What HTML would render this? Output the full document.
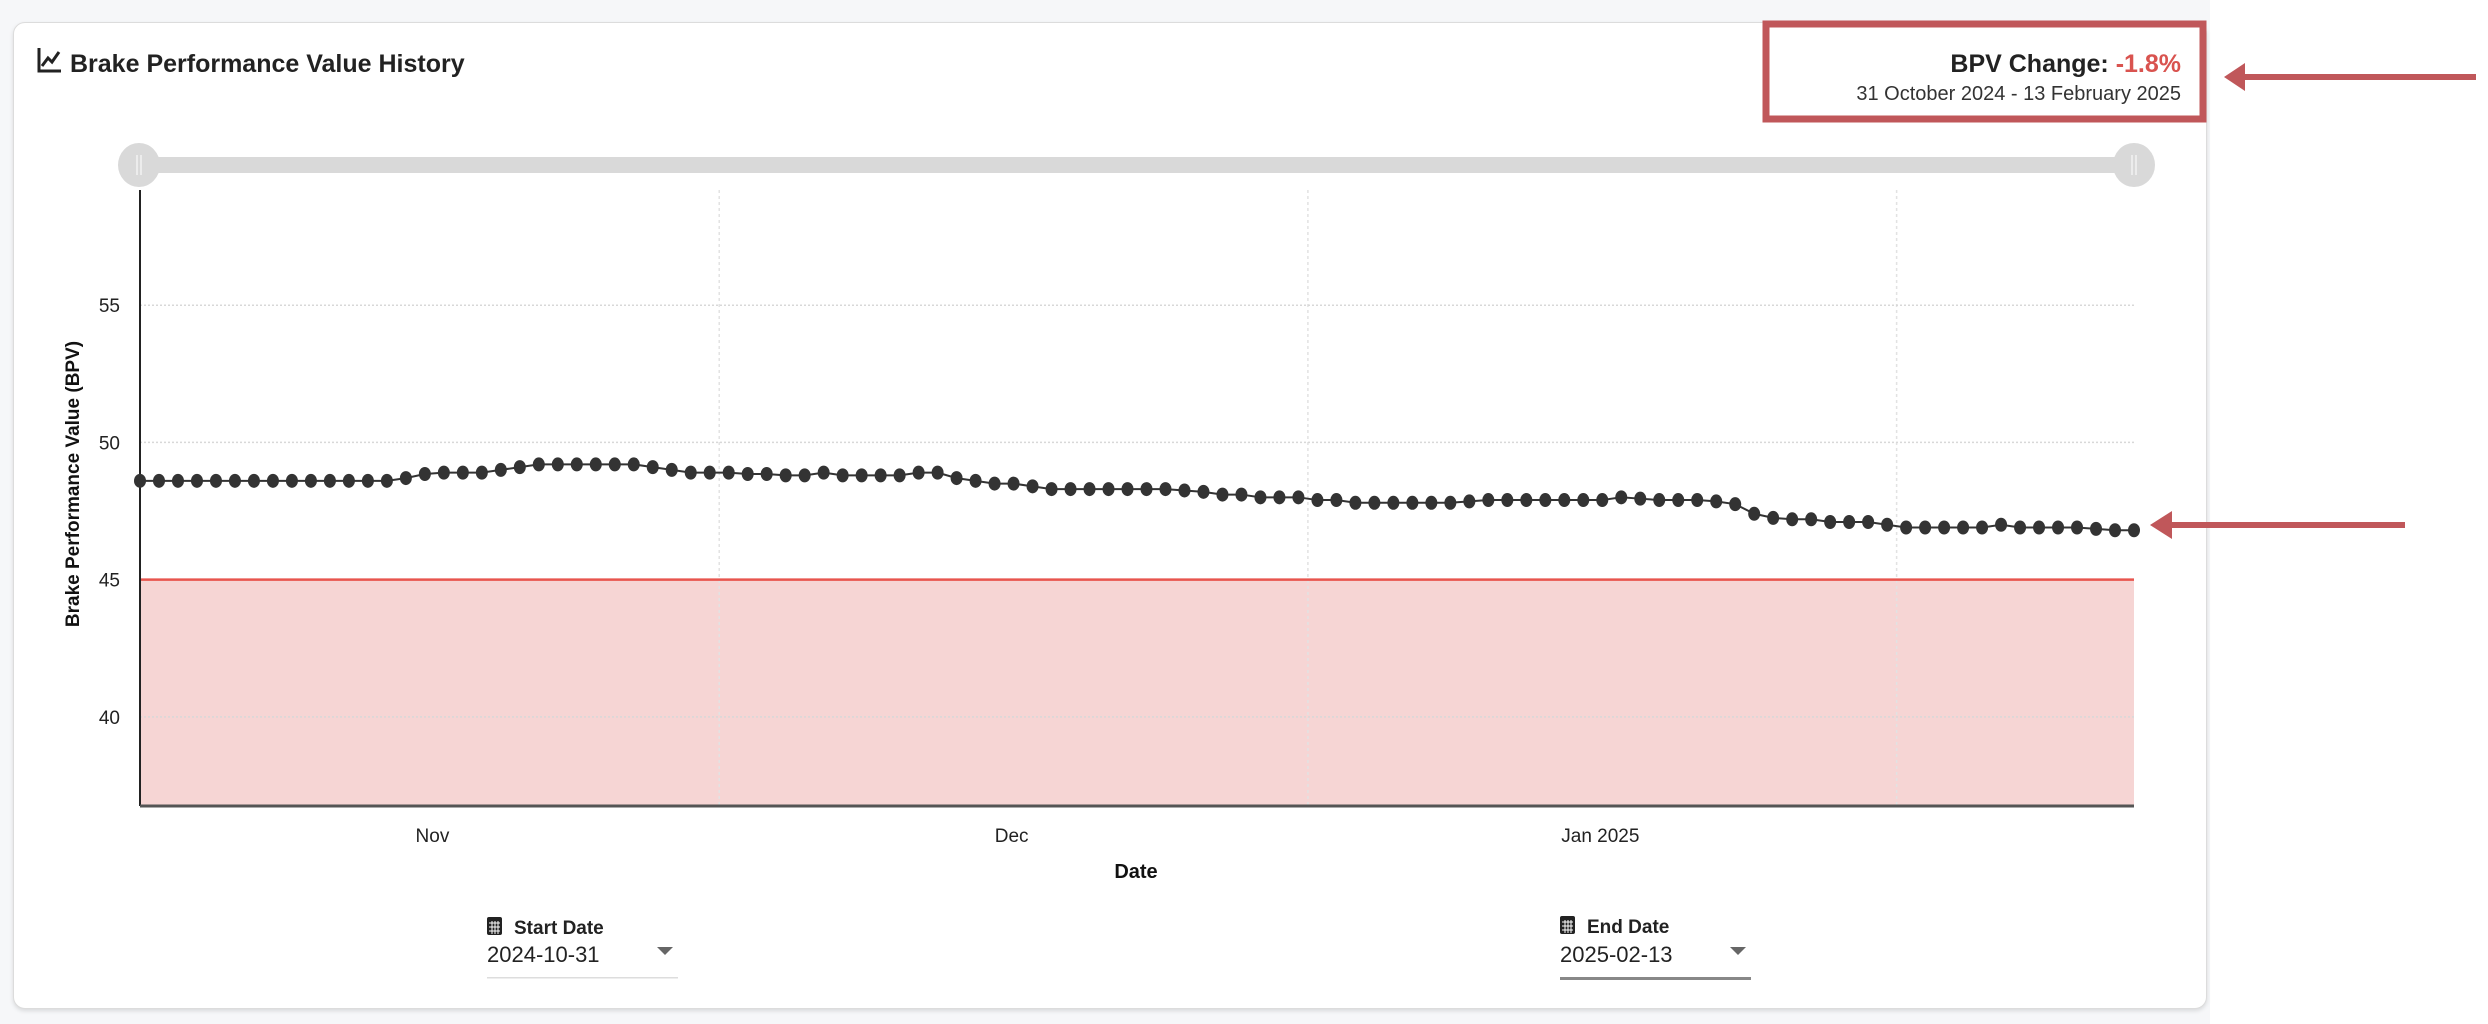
<!DOCTYPE html>
<html><head><meta charset="utf-8"><style>
html,body{margin:0;padding:0;}
body{width:2488px;height:1024px;background:#fff;position:relative;overflow:hidden;font-family:"Liberation Sans",sans-serif;}
#bg{position:absolute;left:0;top:0;width:2210px;height:1024px;background:#f6f7f9;}
#card{position:absolute;left:13px;top:22px;width:2192px;height:985px;background:#fff;border:1px solid #dcdcdc;border-radius:12px;box-shadow:0 2px 4px rgba(0,0,0,0.12);}
svg{position:absolute;left:0;top:0;}
</style></head><body>
<div id="bg"></div>
<div id="card"></div>
<svg id="chart" width="2488" height="1024">
  <g>
    <path d="M39 48 L39 71 L61 71 M42 66 L48 58 L52 62 L59 52" fill="none" stroke="#222" stroke-width="3"/>
    <text x="70" y="72" font-size="25" font-weight="bold" fill="#222">Brake Performance Value History</text>
  </g>
  <rect x="1766" y="24" width="437" height="95" fill="#fff" stroke="#c0575a" stroke-width="7"/>
  <text x="2181" y="72" font-size="25" font-weight="bold" text-anchor="end" fill="#222">BPV Change: <tspan fill="#d9534f">-1.8%</tspan></text>
  <text x="2181" y="100" font-size="20" text-anchor="end" fill="#333">31 October 2024 - 13 February 2025</text>
  <g>
    <line x1="2476" y1="77" x2="2240" y2="77" stroke="#c0575a" stroke-width="6"/>
    <polygon points="2224,77 2245,63 2245,91" fill="#c0575a"/>
  </g>
  <g>
    <line x1="2405" y1="525" x2="2168" y2="525" stroke="#c0575a" stroke-width="6"/>
    <polygon points="2150,525 2172,511 2172,539" fill="#c0575a"/>
  </g>
  <g>
    <rect x="140" y="157" width="1994" height="16" fill="#d9d9d9"/>
    <ellipse cx="139" cy="165" rx="21" ry="22" fill="#d9d9d9"/>
    <line x1="137" y1="155" x2="137" y2="175" stroke="#fff" stroke-width="1"/><line x1="141" y1="155" x2="141" y2="175" stroke="#fff" stroke-width="1"/>
    <ellipse cx="2134" cy="165" rx="21" ry="22" fill="#d9d9d9"/>
    <line x1="2132" y1="155" x2="2132" y2="175" stroke="#fff" stroke-width="1"/><line x1="2136" y1="155" x2="2136" y2="175" stroke="#fff" stroke-width="1"/>
  </g>
  <g id="plot"></g>
  <text x="0" y="0" transform="translate(79,484) rotate(-90)" font-size="19" font-weight="bold" text-anchor="middle" fill="#111">Brake Performance Value (BPV)</text>
  <text x="1136" y="878" font-size="20" font-weight="bold" text-anchor="middle" fill="#111">Date</text>
  <g>
    <g>
      <rect x="487" y="917" width="15" height="18" rx="2" fill="#222"/>
      <path d="M489 923h11M489 927h11M489 931h11M492 921v13M495 921v13M498 921v13" stroke="#fff" stroke-width="1"/>
    </g>
    <text x="514" y="934" font-size="19" font-weight="bold" fill="#222">Start Date</text>
    <text x="487" y="962" font-size="22" fill="#222">2024-10-31</text>
    <polygon points="657,947 673,947 665,955" fill="#666"/>
    <rect x="487" y="977" width="191" height="1.5" fill="#ddd"/>
  </g>
  <g>
    <g>
      <rect x="1560" y="916" width="15" height="18" rx="2" fill="#222"/>
      <path d="M1562 922h11M1562 926h11M1562 930h11M1565 920v13M1568 920v13M1571 920v13" stroke="#fff" stroke-width="1"/>
    </g>
    <text x="1587" y="933" font-size="19" font-weight="bold" fill="#222">End Date</text>
    <text x="1560" y="962" font-size="22" fill="#222">2025-02-13</text>
    <polygon points="1730,947 1746,947 1738,955" fill="#666"/>
    <rect x="1560" y="977" width="191" height="3" fill="#888"/>
  </g>
</svg>
<script>
const bpvValues = [48.6,48.6,48.6,48.6,48.6,48.6,48.6,48.6,48.6,48.6,48.6,48.6,48.6,48.6,
48.7,48.85,48.9,48.9,48.9,49.0,49.1,49.2,49.2,49.2,49.2,49.2,49.2,49.1,49.0,48.9,
48.9,48.9,48.85,48.85,48.8,48.8,48.9,48.8,48.8,48.8,48.8,48.9,48.9,48.7,48.6,
48.5,48.5,48.4,48.3,48.3,48.3,48.3,48.3,48.3,48.3,48.25,48.2,48.1,48.1,48.0,
48.0,48.0,47.9,47.9,47.8,47.8,47.8,47.8,47.8,47.8,47.85,47.9,47.9,47.9,47.9,
47.9,47.9,47.9,48.0,47.95,47.9,47.9,47.9,47.85,47.75,47.4,47.25,47.2,47.2,47.1,
47.1,47.1,47.0,46.9,46.9,46.9,46.9,46.9,47.0,46.9,46.9,46.9,46.9,46.85,46.8,46.8];
const yTicks = [40,45,50,55];
const threshold = 45;
const monthLabels = ["Nov","Dec","Jan 2025"];
const monthLabelDays = [15.4,45.9,76.9];
const monthBoundaryDays = [30.5,61.5,92.5];
const startDay = 0, endDay = 105;
const yMin = 36.75, yMax = 59.2;

const PL=140, PR=2134, PT=190, PB=806;
const xS = d => PL + (d-startDay)/(endDay-startDay)*(PR-PL);
const yS = v => PB - (v-yMin)/(yMax-yMin)*(PB-PT);
const NS="http://www.w3.org/2000/svg";
const plot=document.getElementById('plot');
function mk(tag,attrs){const e=document.createElementNS(NS,tag);for(const k in attrs)e.setAttribute(k,attrs[k]);plot.appendChild(e);return e;}

let f=mk('rect',{x:PL,y:yS(threshold),width:PR-PL,height:PB-yS(threshold),fill:'#f6d5d4'});


monthBoundaryDays.forEach(d=>{
  const l=mk('line',{x1:xS(d),x2:xS(d),y1:PT,y2:PB,stroke:'#e2e2e2','stroke-width':1.5,'stroke-dasharray':'3,3'});
  
  
});
yTicks.forEach(t=>{
  if(t!==threshold){
    const g=mk('line',{x1:PL,x2:PR,y1:yS(t),y2:yS(t),stroke:'#d8d8d8','stroke-width':1.5,'stroke-dasharray':'2,2'});
    
    
  }
  const tx=mk('text',{x:120,y:yS(t)+7,'font-size':19,'text-anchor':'end',fill:'#222'});
  tx.textContent=t;
  
  
});
let th=mk('line',{x1:PL,x2:PR,y1:yS(threshold),y2:yS(threshold),stroke:'#e8554e','stroke-width':2.5});


let ax=mk('line',{x1:PL,x2:PL,y1:PT,y2:PB,stroke:'#222','stroke-width':2});


let bx=mk('line',{x1:PL,x2:PR,y1:PB,y2:PB,stroke:'#555','stroke-width':3});


monthLabels.forEach((m,i)=>{
  const t=mk('text',{x:xS(monthLabelDays[i]),y:842,'font-size':19,'text-anchor':'middle',fill:'#222'});
  t.textContent=m;
  
  
});
const pts=bpvValues.map((v,i)=>xS(startDay+i)+','+yS(v)).join(' ');
let pl=mk('polyline',{points:pts,fill:'none',stroke:'#333','stroke-width':2});


bpvValues.forEach((v,i)=>{
  const c=mk('ellipse',{cx:xS(startDay+i),cy:yS(v),rx:6,ry:7,fill:'#333'});
  
  
});
</script>
</body></html>
